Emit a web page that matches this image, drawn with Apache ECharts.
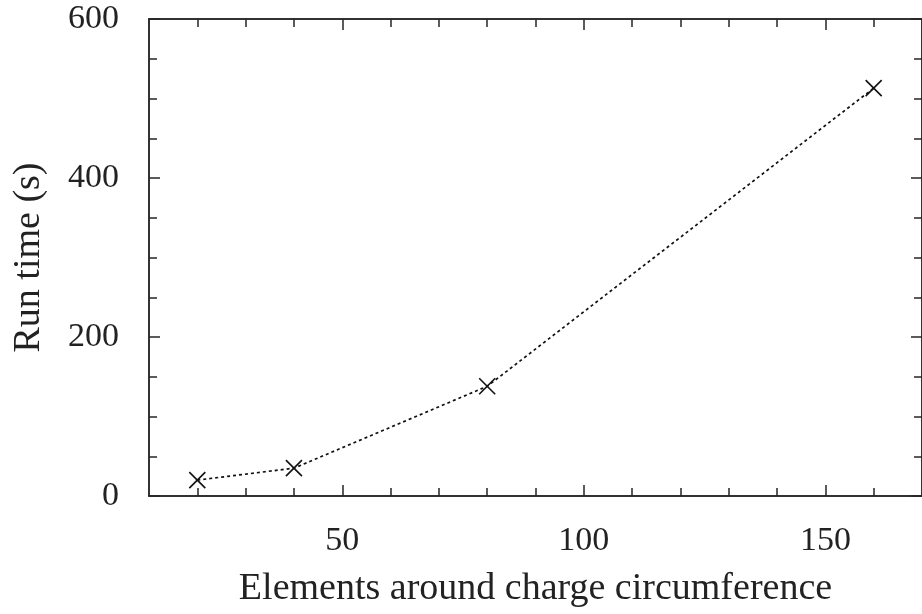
<!DOCTYPE html>
<html>
<head>
<meta charset="utf-8">
<script src="https://cdn.jsdelivr.net/npm/echarts@6/dist/echarts.min.js"></script>
<style>
html,body{margin:0;padding:0;background:#fff;}
#c{width:922px;height:614px;}
</style>
</head>
<body>
<div id="c"></div>
<script>
// Data
const elements = [20, 40, 80, 160];
const runTime = [20, 35, 138, 513];
const xMajorTicks = [50, 100, 150];
const xMinorTicks = [20, 30, 40, 60, 70, 80, 90, 110, 120, 130, 140, 160];
const yMajorTicks = [0, 200, 400, 600];
const yMinorTicks = [50, 100, 150, 250, 300, 350, 450, 500, 550];
const xName = 'Elements around charge circumference';
const yName = 'Run time (s)';

const FONT = 'Liberation Serif';
const AX = '#262626';
const FS = 34;
const NFS = 38;

function xAxisDef(pos, ticks, len, labels, name) {
  return {
    type: 'value', min: 10, max: 170, interval: 10, position: pos,
    axisLine: { show: true, onZero: false, lineStyle: { color: AX, width: 1.5 } },
    axisTick: { show: true, inside: true, length: len, customValues: ticks, lineStyle: { color: AX, width: 1.5 } },
    axisLabel: labels ? { show: true, customValues: ticks, margin: 28, color: '#222', fontFamily: FONT, fontSize: FS } : { show: false },
    splitLine: { show: false },
    name: name || '', nameLocation: 'middle', nameGap: 74,
    nameTextStyle: { color: '#222', fontFamily: FONT, fontSize: NFS }
  };
}
function yAxisDef(pos, ticks, len, labels, name) {
  return {
    type: 'value', min: 0, max: 600, interval: 50, position: pos,
    axisLine: { show: true, onZero: false, lineStyle: { color: AX, width: 1.5 } },
    axisTick: { show: true, inside: true, length: len, customValues: ticks, lineStyle: { color: AX, width: 1.5 } },
    axisLabel: labels ? { show: true, customValues: ticks, margin: 30, color: '#222', fontFamily: FONT, fontSize: FS } : { show: false },
    splitLine: { show: false },
    name: name || '', nameLocation: 'middle', nameGap: 101, nameRotate: 90,
    nameTextStyle: { color: '#222', fontFamily: FONT, fontSize: NFS }
  };
}

const chart = echarts.init(document.getElementById('c'), null, { renderer: 'canvas' });
chart.setOption({
  animation: false,
  backgroundColor: '#fff',
  grid: { left: 149, right: 0, top: 19, bottom: 118, containLabel: false },
  xAxis: [
    xAxisDef('bottom', xMajorTicks, 11, true, xName),
    xAxisDef('bottom', xMinorTicks, 8, false),
    xAxisDef('top', xMajorTicks, 11, false),
    xAxisDef('top', xMinorTicks, 8, false)
  ],
  yAxis: [
    yAxisDef('left', yMajorTicks, 11, true, yName),
    yAxisDef('left', yMinorTicks, 8, false),
    yAxisDef('right', yMajorTicks, 11, false),
    yAxisDef('right', yMinorTicks, 8, false)
  ],
  series: [{
    type: 'line',
    xAxisIndex: 0, yAxisIndex: 0,
    data: elements.map((x, i) => [x, runTime[i]]),
    lineStyle: { color: '#111', width: 1.7, type: [3, 3] },
    symbol: 'path://M0,0L10,10M10,0L0,10',
    symbolSize: 16,
    itemStyle: { color: 'none', borderColor: '#111', borderWidth: 1.6 },
    emphasis: { disabled: true }
  }]
});
</script>
</body>
</html>
